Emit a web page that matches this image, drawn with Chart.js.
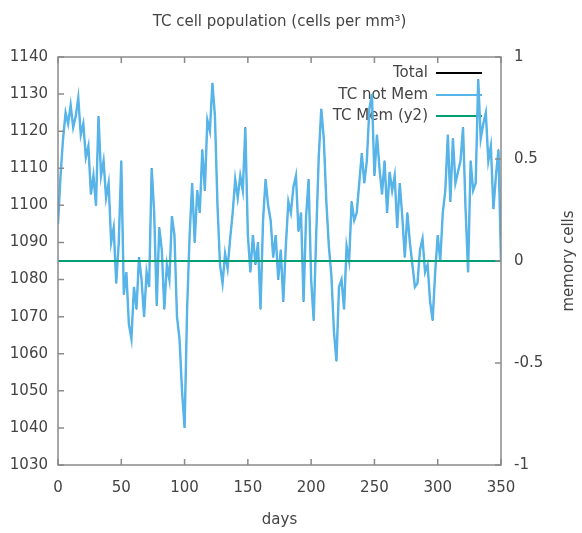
<!DOCTYPE html>
<html>
<head>
<meta charset="utf-8">
<script src="https://cdn.jsdelivr.net/npm/chart.js@4.4.1/dist/chart.umd.min.js"></script>
<style>
  html, body { margin: 0; padding: 0; background: #fff; }
  #wrap { width: 582px; height: 533px; }
</style>
</head>
<body>
<div id="wrap"><canvas id="tcChart"></canvas></div>
<script>
// DATA
let days = [0, 2, 4, 6, 8, 10, 12, 14, 16, 18, 20, 22, 24, 26, 28, 30, 32, 34, 36, 38,
  40, 42, 44, 46, 48, 50, 52, 54, 56, 58, 60, 62, 64, 66, 68, 70, 72, 74, 76, 78,
  80, 82, 84, 86, 88, 90, 92, 94, 96, 98, 100, 102, 104, 106, 108, 110, 112, 114, 116, 118,
  120, 122, 124, 126, 128, 130, 132, 134, 136, 138, 140, 142, 144, 146, 148, 150, 152, 154, 156, 158,
  160, 162, 164, 166, 168, 170, 172, 174, 176, 178, 180, 182, 184, 186, 188, 190, 192, 194, 196, 198,
  200, 202, 204, 206, 208, 210, 212, 214, 216, 218, 220, 222, 224, 226, 228, 230, 232, 234, 236, 238,
  240, 242, 244, 246, 248, 250, 252, 254, 256, 258, 260, 262, 264, 266, 268, 270, 272, 274, 276, 278,
  280, 282, 284, 286, 288, 290, 292, 294, 296, 298, 300, 302, 304, 306, 308, 310, 312, 314, 316, 318,
  320, 322, 324, 326, 328, 330, 332, 334, 336, 338, 340, 342, 344, 346, 348, 350];

let tcNotMem = [1095, 1108, 1118, 1125, 1122, 1127, 1121, 1124, 1129, 1119, 1122, 1113, 1116, 1103, 1108, 1100, 1124, 1108, 1112, 1102,
  1106, 1090, 1094, 1079, 1090, 1112, 1076, 1082, 1068, 1064, 1078, 1072, 1086, 1080, 1070, 1082, 1078, 1110, 1098, 1073,
  1094, 1088, 1072, 1084, 1080, 1097, 1092, 1070, 1064, 1050, 1040, 1072, 1092, 1106, 1090, 1104, 1098, 1115, 1104, 1123,
  1120, 1133, 1124, 1100, 1084, 1079, 1087, 1083, 1091, 1098, 1107, 1102, 1108, 1104, 1121, 1092, 1082, 1092, 1084, 1090,
  1072, 1096, 1107, 1100, 1096, 1086, 1092, 1080, 1088, 1074, 1089, 1101, 1098, 1105, 1108, 1093, 1098, 1074, 1097, 1107,
  1080, 1069, 1092, 1113, 1126, 1118, 1101, 1089, 1081, 1066, 1058, 1078, 1080, 1072, 1089, 1085, 1101, 1096, 1098, 1106,
  1114, 1106, 1112, 1126, 1130, 1108, 1119, 1110, 1103, 1112, 1098, 1109, 1104, 1108, 1094, 1106, 1097, 1086, 1098, 1090,
  1084, 1078, 1079, 1088, 1091, 1082, 1084, 1074, 1069, 1082, 1092, 1085, 1098, 1104, 1119, 1101, 1118, 1106, 1109, 1112,
  1121, 1099, 1082, 1112, 1104, 1106, 1134, 1118, 1122, 1125, 1112, 1116, 1099, 1108, 1115, 1085];

// memory cells stay at zero the whole run
let memDays = [0, 350];
let memCells = [0, 0];

let xTicks = [0, 50, 100, 150, 200, 250, 300, 350];
let yTicks = [1030, 1040, 1050, 1060, 1070, 1080, 1090, 1100, 1110, 1120, 1130, 1140];
let y2Ticks = [-1, -0.5, 0, 0.5, 1];

let textColor = '#444';
let frameColor = '#8a8a8a';
let fontFamily = '"DejaVu Sans", sans-serif';
let fontSize = 15;

let points = days.map((d, i) => ({ x: d, y: tcNotMem[i] }));
let memPoints = memDays.map((d, i) => ({ x: d, y: memCells[i] }));

// gnuplot-like frame: box, inward ticks, key inside, rotated y2 label
let gnuplotFrame = {
  id: 'gnuplotFrame',
  beforeDatasetsDraw(chart) {
    let ctx = chart.ctx;
    let rows = [73, 95, 116];
    ctx.save();
    ctx.font = fontSize + 'px ' + fontFamily;
    ctx.textAlign = 'right';
    ctx.textBaseline = 'middle';
    chart.data.datasets.forEach((ds, i) => {
      ctx.fillStyle = textColor;
      ctx.fillText(ds.label, 428, rows[i]);
      ctx.strokeStyle = ds.borderColor;
      ctx.lineWidth = 2;
      ctx.beginPath();
      ctx.moveTo(436, rows[i]);
      ctx.lineTo(482, rows[i]);
      ctx.stroke();
    });
    ctx.restore();
  },
  afterDraw(chart) {
    let ctx = chart.ctx;
    let a = chart.chartArea;
    let sx = chart.scales.x, sy = chart.scales.y, sy2 = chart.scales.y2;
    let len = 6;
    ctx.save();
    ctx.strokeStyle = frameColor;
    ctx.lineWidth = 1.5;
    ctx.strokeRect(a.left, a.top, a.right - a.left, a.bottom - a.top);
    ctx.beginPath();
    xTicks.forEach(t => {
      let px = sx.getPixelForValue(t);
      ctx.moveTo(px, a.bottom); ctx.lineTo(px, a.bottom - len);
      ctx.moveTo(px, a.top); ctx.lineTo(px, a.top + len);
    });
    yTicks.forEach(t => {
      let py = sy.getPixelForValue(t);
      ctx.moveTo(a.left, py); ctx.lineTo(a.left + len, py);
    });
    y2Ticks.forEach(t => {
      let py = sy2.getPixelForValue(t);
      ctx.moveTo(a.right, py); ctx.lineTo(a.right - len, py);
    });
    ctx.stroke();

    ctx.fillStyle = textColor;
    ctx.font = fontSize + 'px ' + fontFamily;
    ctx.textAlign = 'center';
    ctx.textBaseline = 'middle';
    ctx.translate(569, (a.top + a.bottom) / 2);
    ctx.rotate(-Math.PI / 2);
    ctx.fillText('memory cells', 0, 0);
    ctx.restore();
  }
};

let ctx1 = document.querySelector('#tcChart').getContext('2d');

let tcChart = new Chart(ctx1, {
  type: 'line',
  data: {
    datasets: [{
      label: 'Total',
      data: points,
      borderColor: '#000000',
      borderWidth: 1,
      order: 3,
      yAxisID: 'y'
    }, {
      label: 'TC not Mem',
      data: points,
      borderColor: '#56b4e9',
      borderWidth: 2.4,
      order: 2,
      yAxisID: 'y'
    }, {
      label: 'TC Mem (y2)',
      data: memPoints,
      borderColor: '#009e73',
      borderWidth: 2,
      order: 1,
      yAxisID: 'y2'
    }]
  },
  options: {
    responsive: true,
    maintainAspectRatio: false,
    animation: false,
    events: [],
    elements: {
      point: { radius: 0 },
      line: { tension: 0 }
    },
    layout: { padding: 0 },
    plugins: {
      legend: { display: false },
      tooltip: { enabled: false },
      title: {
        display: true,
        text: 'TC cell population (cells per mm\u00B3)',
        color: textColor,
        fullSize: false,
        font: { family: fontFamily, size: fontSize, weight: 'normal' },
        padding: { top: 13, bottom: 26 }
      }
    },
    scales: {
      x: {
        type: 'linear',
        min: 0,
        max: 350,
        afterBuildTicks: s => { s.ticks = xTicks.map(v => ({ value: v })); },
        afterFit: s => { s.height = 68; },
        grid: { display: false, drawTicks: false },
        border: { display: false },
        ticks: { color: textColor, padding: 14, maxRotation: 0, callback: v => String(v), font: { family: fontFamily, size: fontSize } },
        title: { display: true, text: 'days', color: textColor, padding: { top: 0, bottom: 4 }, font: { family: fontFamily, size: fontSize } }
      },
      y: {
        position: 'left',
        min: 1030,
        max: 1140,
        afterBuildTicks: s => { s.ticks = yTicks.map(v => ({ value: v })); },
        afterFit: s => { s.width = 58; },
        grid: { display: false, drawTicks: false },
        border: { display: false },
        ticks: { color: textColor, padding: 10, callback: v => String(v), font: { family: fontFamily, size: fontSize } }
      },
      y2: {
        position: 'right',
        min: -1,
        max: 1,
        afterBuildTicks: s => { s.ticks = y2Ticks.map(v => ({ value: v })); },
        afterFit: s => { s.width = 81; },
        grid: { display: false, drawTicks: false },
        border: { display: false },
        ticks: { color: textColor, padding: 13, callback: v => String(v), font: { family: fontFamily, size: fontSize } }
      }
    }
  },
  plugins: [gnuplotFrame]
});
</script>
</body>
</html>
